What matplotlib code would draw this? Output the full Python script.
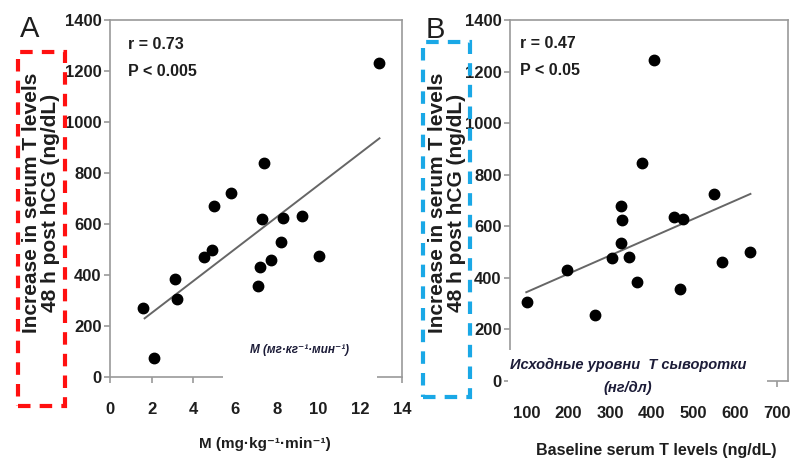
import matplotlib
matplotlib.use('Agg')
import matplotlib.pyplot as plt
from matplotlib.patches import Rectangle

W, H = 799, 466

# Panel A: insulin sensitivity (M) vs increase in serum T
M_VALUES = [1.6, 2.1, 3.1, 3.2, 4.5, 4.9, 5.0, 5.8, 7.4, 7.3, 7.2, 7.1,
            7.7, 8.2, 8.3, 9.2, 10.0, 12.9]
T_INCREASE_A = [270, 75, 385, 305, 470, 500, 670, 720, 840, 620, 430, 355,
                460, 530, 625, 630, 475, 1230]
FIT_A = (62.7, 126)          # slope, intercept
FIT_A_RANGE = (1.66, 12.92)

# Panel B: baseline serum T vs increase in serum T
BASELINE_T = [100, 197, 263, 304, 327, 329, 327, 345, 365, 377, 405, 453,
              475, 467, 549, 567, 636]
T_INCREASE_B = [305, 430, 255, 478, 680, 625, 535, 480, 385, 845, 1245, 635,
                630, 355, 725, 460, 500]
FIT_B = (0.71, 274)
FIT_B_RANGE = (99, 636)

Y_TICKS = [0, 200, 400, 600, 800, 1000, 1200, 1400]
X_TICKS_A = [0, 2, 4, 6, 8, 10, 12, 14]
X_TICKS_B = [100, 200, 300, 400, 500, 600, 700]

FONT = ['Liberation Sans', 'DejaVu Sans']
plt.rcParams['font.family'] = FONT

SPINE = '#9a9a9a'
INK = '#1e1e1e'
RU_INK = '#1c1c38'


def fx(px):
    return px / W


def fy(py):
    return 1 - py / H


def make_axes(fig, left, top, right, bottom):
    return fig.add_axes([fx(left), fy(bottom), fx(right - left), (bottom - top) / H])


def style_axes(ax, xticks):
    ax.set_ylim(0, 1400)
    ax.set_yticks(Y_TICKS)
    ax.set_xticks(xticks)
    for s in ax.spines.values():
        s.set_color(SPINE)
        s.set_linewidth(1.2)
    ax.tick_params(axis='y', length=4, width=1.2, color=SPINE, pad=2,
                   labelsize=12, labelcolor=INK)
    ax.tick_params(axis='x', length=4, width=1.2, color=SPINE, pad=14,
                   labelsize=12, labelcolor=INK)
    for lab in ax.get_xticklabels() + ax.get_yticklabels():
        lab.set_fontweight('bold')


def dashed_box(fig, x0, y0, x1, y1, color):
    fig.add_artist(Rectangle((fx(x0), fy(y1)), fx(x1 - x0), (y1 - y0) / H,
                             transform=fig.transFigure, fill=False,
                             edgecolor=color, linewidth=3,
                             linestyle=(0, (3, 2.2)), zorder=6))


def white_box(fig, x0, y0, x1, y1):
    fig.add_artist(Rectangle((fx(x0), fy(y1)), fx(x1 - x0), (y1 - y0) / H,
                             transform=fig.transFigure, facecolor='white',
                             edgecolor='none', zorder=5))


fig = plt.figure(figsize=(W / 100, H / 100), dpi=100)

# ---- panel A ----
ax1 = make_axes(fig, 110, 20, 402, 377)
ax1.set_xlim(0, 14)
style_axes(ax1, X_TICKS_A)
ax1.plot(M_VALUES, T_INCREASE_A, 'o', color='black', ms=7.5, zorder=3)
xa = list(FIT_A_RANGE)
ax1.plot(xa, [FIT_A[0] * v + FIT_A[1] for v in xa], color='#666666', lw=1.4)
ax1.text(0.06, 0.93, 'r = 0.73', transform=ax1.transAxes, fontsize=11.5,
         fontweight='bold', color=INK, va='center')
ax1.text(0.06, 0.855, 'P < 0.005', transform=ax1.transAxes, fontsize=11.5,
         fontweight='bold', color=INK, va='center')

# ---- panel B ----
ax2 = make_axes(fig, 510, 20, 788, 381)
ax2.set_xlim(60, 726)
style_axes(ax2, X_TICKS_B)
ax2.plot(BASELINE_T, T_INCREASE_B, 'o', color='black', ms=7.5, zorder=3)
xb = list(FIT_B_RANGE)
ax2.plot(xb, [FIT_B[0] * v + FIT_B[1] for v in xb], color='#666666', lw=1.4)
ax2.text(0.035, 0.935, 'r = 0.47', transform=ax2.transAxes, fontsize=11.5,
         fontweight='bold', color=INK, va='center')
ax2.text(0.035, 0.86, 'P < 0.05', transform=ax2.transAxes, fontsize=11.5,
         fontweight='bold', color=INK, va='center')

# axis titles
ylab = 'Increase in serum T levels\n48 h post hCG (ng/dL)'
for xc in (41, 447):
    fig.text(fx(xc), fy(203), ylab, rotation=90, ha='center', va='center',
             fontsize=15, fontweight='bold', color=INK, linespacing=0.95)
fig.text(fx(265), fy(444), 'M (mg·kg⁻¹·min⁻¹)', ha='center',
         va='center', fontsize=11, fontweight='bold', color=INK)
fig.text(fx(656), fy(451), 'Baseline serum T levels (ng/dL)', ha='center',
         va='center', fontsize=11.5, fontweight='bold', color=INK)

# panel letters
fig.text(fx(30), fy(29), 'A', ha='center', va='center', fontsize=21, color=INK)
fig.text(fx(435), fy(30), 'B', ha='center', va='center', fontsize=21, color=INK)

# Russian captions on white patches
white_box(fig, 223, 335, 377, 386)
fig.text(fx(300), fy(350), 'M (мг·кг⁻¹·мин⁻¹)', ha='center',
         va='center', fontsize=8.5, style='italic', fontweight='bold',
         color=RU_INK, zorder=7)
white_box(fig, 508, 350, 767, 398)
fig.text(fx(628), fy(365), 'Исходные уровни  Т сыворотки', ha='center',
         va='center', fontsize=10.5, style='italic', fontweight='bold',
         color=RU_INK, zorder=7)
fig.text(fx(628), fy(388), '(нг/дл)', ha='center', va='center', fontsize=10.5,
         style='italic', fontweight='bold', color=RU_INK, zorder=7)

# highlight boxes around the y-axis titles
dashed_box(fig, 18, 52, 65, 406, '#ff1010')
dashed_box(fig, 423, 42, 470, 397, '#1aa8e6')

fig.savefig('out.png', dpi=100)
